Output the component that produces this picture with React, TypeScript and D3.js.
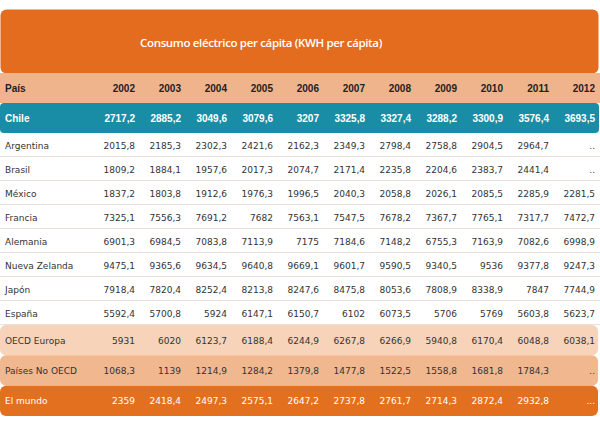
import React from "react";
import * as d3 from "d3";

const title = "Consumo eléctrico per cápita (KWH per cápita)";
const headerLabel = "País";
const years = ["2002", "2003", "2004", "2005", "2006", "2007", "2008", "2009", "2010", "2011", "2012"];

const chileLabel = "Chile";
const chileValues = [2717.2, 2885.2, 3049.6, 3079.6, 3207, 3325.8, 3327.4, 3288.2, 3300.9, 3576.4, 3693.5];

const countries = ["Argentina", "Brasil", "México", "Francia", "Alemania", "Nueva Zelanda", "Japón", "España"];
const argentina = [2015.8, 2185.3, 2302.3, 2421.6, 2162.3, 2349.3, 2798.4, 2758.8, 2904.5, 2964.7, null];
const brasil = [1809.2, 1884.1, 1957.6, 2017.3, 2074.7, 2171.4, 2235.8, 2204.6, 2383.7, 2441.4, null];
const mexico = [1837.2, 1803.8, 1912.6, 1976.3, 1996.5, 2040.3, 2058.8, 2026.1, 2085.5, 2285.9, 2281.5];
const francia = [7325.1, 7556.3, 7691.2, 7682, 7563.1, 7547.5, 7678.2, 7367.7, 7765.1, 7317.7, 7472.7];
const alemania = [6901.3, 6984.5, 7083.8, 7113.9, 7175, 7184.6, 7148.2, 6755.3, 7163.9, 7082.6, 6998.9];
const nuevaZelanda = [9475.1, 9365.6, 9634.5, 9640.8, 9669.1, 9601.7, 9590.5, 9340.5, 9536, 9377.8, 9247.3];
const japon = [7918.4, 7820.4, 8252.4, 8213.8, 8247.6, 8475.8, 8053.6, 7808.9, 8338.9, 7847, 7744.9];
const espana = [5592.4, 5700.8, 5924, 6147.1, 6150.7, 6102, 6073.5, 5706, 5769, 5603.8, 5623.7];
const countryValues = [argentina, brasil, mexico, francia, alemania, nuevaZelanda, japon, espana];

const summaryLabels = ["OECD Europa", "Países No OECD", "El mundo"];
const oecdEuropa = [5931, 6020, 6123.7, 6188.4, 6244.9, 6267.8, 6266.9, 5940.8, 6170.4, 6048.8, 6038.1];
const noOecd = [1068.3, 1139, 1214.9, 1284.2, 1379.8, 1477.8, 1522.5, 1558.8, 1681.8, 1784.3, null];
const mundo = [2359, 2418.4, 2497.3, 2575.1, 2647.2, 2737.8, 2761.7, 2714.3, 2872.4, 2932.8, null];
const summaryValues = [oecdEuropa, noOecd, mundo];
const summaryMissing = ["..", "..", "..."];

const W = 600;
const H = 425;
const fmt = (v: number | null, missing = "..") =>
  v == null ? missing : String(v).replace(".", ",");

export default function App() {
  const x = d3.scalePoint<string>().domain(years).range([135, 595]);
  const bodyY = d3.scaleBand<string>().domain(countries).range([133, 325]);
  const sumY = d3.scaleBand<string>().domain(summaryLabels).range([325, 416]);

  const bodyFont = "'DejaVu Sans', Verdana, sans-serif";
  const boldFont = "'Liberation Sans', Arial, sans-serif";
  const sumFill = ["#F7D3BA", "#F1B78F", "#E3701F"];
  const sumText = ["#333", "#333", "#fff"];

  return (
    <svg
      width={W}
      height={H}
      viewBox={`0 0 ${W} ${H}`}
      style={{ position: "absolute", left: 0, top: 0, background: "#fff" }}
    >
      {/* title */}
      <rect x={0.5} y={9.5} width={598} height={64} rx={6} fill="#E36C1E" />
      <text
        x={261}
        y={47}
        textAnchor="middle"
        fill="#fff"
        fontFamily="'Open Sans', sans-serif"
        fontWeight={600}
        fontSize={11.5}
        letterSpacing={-0.35}
      >
        {title}
      </text>

      {/* header */}
      <rect x={0} y={73} width={600} height={30} fill="#F0B48C" />
      <text x={5} y={91.5} fontFamily={boldFont} fontWeight="bold" fontSize={10} fill="#222">
        {headerLabel}
      </text>
      {years.map((yr) => (
        <text key={yr} x={x(yr)} y={91.5} textAnchor="end" fontFamily={boldFont} fontWeight="bold" fontSize={10} fill="#222">
          {yr}
        </text>
      ))}

      {/* Chile */}
      <rect x={0} y={103} width={599} height={30} rx={4} fill="#1A8DA6" />
      <text x={5} y={121.5} fontFamily={boldFont} fontWeight="bold" fontSize={10} fill="#fff">
        {chileLabel}
      </text>
      {chileValues.map((v, i) => (
        <text key={i} x={x(years[i])} y={121.5} textAnchor="end" fontFamily={boldFont} fontWeight="bold" fontSize={10} fill="#fff">
          {fmt(v)}
        </text>
      ))}

      {/* countries */}
      {countries.map((c, r) => {
        const y0 = bodyY(c)!;
        const h = bodyY.bandwidth();
        return (
          <g key={c}>
            <line x1={0} x2={600} y1={y0 + h - 0.5} y2={y0 + h - 0.5} stroke="#E8E2DC" strokeWidth={1} />
            <text x={5} y={y0 + h / 2 + 3.5} fontFamily={bodyFont} fontSize={9} fill="#333">
              {c}
            </text>
            {countryValues[r].map((v, i) => (
              <text key={i} x={x(years[i])} y={y0 + h / 2 + 3.5} textAnchor="end" fontFamily={bodyFont} fontSize={9} fill="#333">
                {fmt(v)}
              </text>
            ))}
          </g>
        );
      })}

      {/* summary rows */}
      {summaryLabels.map((s, r) => {
        const y0 = sumY(s)!;
        const h = sumY.bandwidth();
        return (
          <g key={s}>
            <rect x={0} y={y0} width={598} height={h} rx={6} fill={sumFill[r]} />
            <text x={5} y={y0 + h / 2 + 3.5} fontFamily={bodyFont} fontSize={9} fill={sumText[r]}>
              {s}
            </text>
            {summaryValues[r].map((v, i) => (
              <text key={i} x={x(years[i])} y={y0 + h / 2 + 3.5} textAnchor="end" fontFamily={bodyFont} fontSize={9} fill={sumText[r]}>
                {fmt(v, summaryMissing[r])}
              </text>
            ))}
          </g>
        );
      })}
    </svg>
  );
}
